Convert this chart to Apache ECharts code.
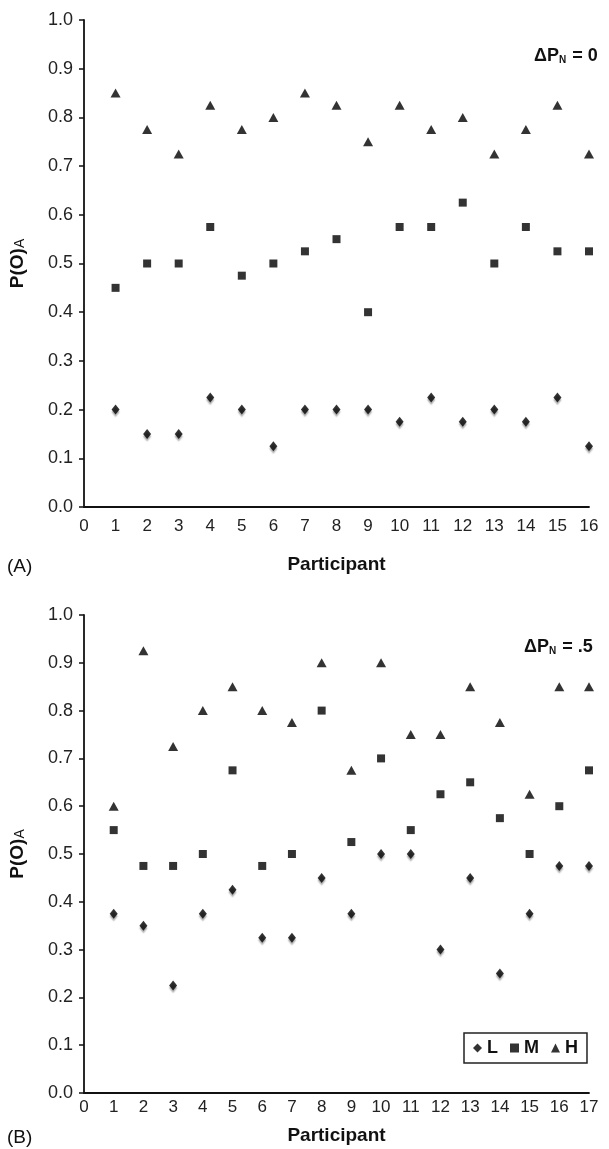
<!DOCTYPE html>
<html><head><meta charset="utf-8">
<script src="https://cdn.jsdelivr.net/npm/echarts@6/dist/echarts.min.js"></script>
<style>html,body{margin:0;padding:0;background:#fff}#c{width:609px;height:1149px}</style>
</head><body><div id="c"></div>
<script>
const participantsA = [1,2,3,4,5,6,7,8,9,10,11,12,13,14,15,16];
const lowA  = [0.2,0.15,0.15,0.225,0.2,0.125,0.2,0.2,0.2,0.175,0.225,0.175,0.2,0.175,0.225,0.125];
const medA  = [0.45,0.5,0.5,0.575,0.475,0.5,0.525,0.55,0.4,0.575,0.575,0.625,0.5,0.575,0.525,0.525];
const highA = [0.85,0.775,0.725,0.825,0.775,0.8,0.85,0.825,0.75,0.825,0.775,0.8,0.725,0.775,0.825,0.725];

const participantsB = [1,2,3,4,5,6,7,8,9,10,11,12,13,14,15,16,17];
const lowB  = [0.375,0.35,0.225,0.375,0.425,0.325,0.325,0.45,0.375,0.5,0.5,0.3,0.45,0.25,0.375,0.475,0.475];
const medB  = [0.55,0.475,0.475,0.5,0.675,0.475,0.5,0.8,0.525,0.7,0.55,0.625,0.65,0.575,0.5,0.6,0.675];
const highB = [0.6,0.925,0.725,0.8,0.85,0.8,0.775,0.9,0.675,0.9,0.75,0.75,0.85,0.775,0.625,0.85,0.85];

const seriesNames = ['L','M','H'];
const yTitleMain = 'P(O)';
const yTitleSub = 'A';
const xTitle = 'Participant';
const panelLabels = ['(A)', '(B)'];
const deltaValues = ['0', '.5'];

const FONT = '"Liberation Sans", Arial, sans-serif';
const pairs = (xs, ys) => xs.map((x, i) => [x, ys[i]]);

const symbolCfg = {
  L: {symbol: 'diamond', symbolSize: [8, 10], shadow: true},
  M: {symbol: 'rect', symbolSize: 8},
  H: {symbol: 'triangle', symbolSize: [10, 9]}
};

function mkSeries(name, data, idx) {
  const c = symbolCfg[name];
  const s = {
    name: name, type: 'scatter', xAxisIndex: idx, yAxisIndex: idx,
    data: data, symbol: c.symbol, symbolSize: c.symbolSize,
    itemStyle: {color: '#000'}
  };
  if (c.shadow) {
    s.itemStyle.shadowColor = 'rgba(0,0,0,0.4)';
    s.itemStyle.shadowBlur = 1.5;
    s.itemStyle.shadowOffsetY = 2.5;
  }
  return s;
}

function mkX(idx, max, labelMargin, nameGap) {
  return {
    type: 'value', gridIndex: idx, min: 0, max: max, interval: 1,
    axisLine: {show: true, lineStyle: {color: '#111', width: 1.8}},
    axisTick: {show: false},
    splitLine: {show: false},
    axisLabel: {color: '#222', fontFamily: FONT, fontSize: 17, margin: labelMargin},
    name: xTitle, nameLocation: 'middle', nameGap: nameGap,
    nameTextStyle: {fontFamily: FONT, fontSize: 19, fontWeight: 'bold', color: '#111'}
  };
}
function mkY(idx) {
  return {
    type: 'value', gridIndex: idx, min: 0, max: 1, interval: 0.1,
    axisLine: {show: true, lineStyle: {color: '#111', width: 1.8}},
    axisTick: {show: true, length: 5, lineStyle: {color: '#111', width: 1.5}},
    splitLine: {show: false},
    axisLabel: {color: '#222', fontFamily: FONT, fontSize: 18, margin: 11,
      formatter: v => v.toFixed(1)},
    name: '{b|' + yTitleMain + '}{s|' + yTitleSub + '}',
    nameLocation: 'middle', nameRotate: 90, nameGap: 57,
    nameTextStyle: {rich: {
      b: {fontFamily: FONT, fontSize: 19, fontWeight: 'bold', color: '#111'},
      s: {fontFamily: FONT, fontSize: 14, color: '#111', padding: [5, 0, 0, 0]}
    }}
  };
}

function deltaText(x, y, val) {
  return {
    type: 'text', left: x, top: y,
    style: {
      text: '{a|ΔP}{s|N}{a| = ' + val + '}',
      rich: {
        a: {fontFamily: FONT, fontSize: 18, fontWeight: 'bold', fill: '#111'},
        s: {fontFamily: FONT, fontSize: 10, fontWeight: 'bold', fill: '#111', padding: [9, 1, 0, 0]}
      }
    }
  };
}
function plainText(x, y, t) {
  return {
    type: 'text', left: x, top: y,
    style: {text: t, font: '19px ' + FONT, fill: '#111'}
  };
}

const chart = echarts.init(document.getElementById('c'), null, {renderer: 'canvas'});
chart.setOption({
  backgroundColor: '#fff',
  animation: false,
  grid: [
    {left: 84, right: 20, top: 20, bottom: 642},
    {left: 82, right: 20, top: 615, bottom: 56}
  ],
  xAxis: [mkX(0, 16, 11, 48), mkX(1, 17, 6, 33)],
  yAxis: [mkY(0), mkY(1)],
  legend: {
    data: seriesNames.map(n => ({name: n, icon: symbolCfg[n].symbol})),
    left: 464, top: 1033,
    orient: 'horizontal',
    itemWidth: 9, itemHeight: 9, itemGap: 12,
    padding: [6, 9, 6, 9],
    borderColor: '#222', borderWidth: 1.5,
    textStyle: {fontFamily: FONT, fontSize: 18, fontWeight: 'bold', color: '#111'},
    selectedMode: false,
    itemStyle: {shadowBlur: 0, shadowOffsetY: 0, shadowColor: 'transparent'}
  },
  graphic: [
    deltaText(534, 47, deltaValues[0]),
    deltaText(524, 638, deltaValues[1]),
    plainText(7, 557, panelLabels[0]),
    plainText(7, 1128, panelLabels[1])
  ],
  series: [
    mkSeries('L', pairs(participantsA, lowA), 0),
    mkSeries('M', pairs(participantsA, medA), 0),
    mkSeries('H', pairs(participantsA, highA), 0),
    mkSeries('L', pairs(participantsB, lowB), 1),
    mkSeries('M', pairs(participantsB, medB), 1),
    mkSeries('H', pairs(participantsB, highB), 1)
  ]
});
</script></body></html>
